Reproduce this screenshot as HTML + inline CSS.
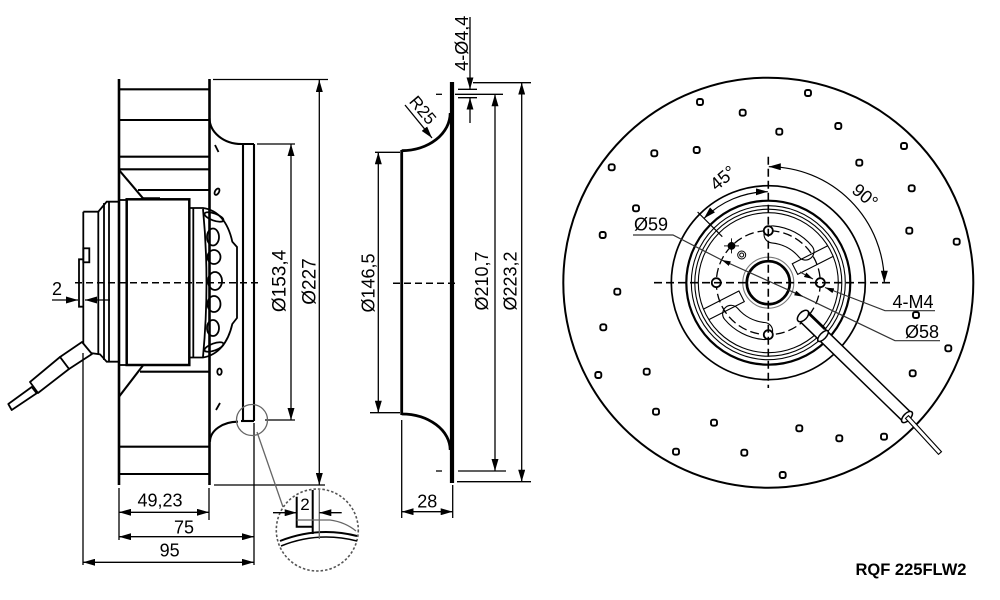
<!DOCTYPE html>
<html><head><meta charset="utf-8"><style>
html,body{margin:0;padding:0;background:#fff}
svg{display:block}
text{font-family:"Liberation Sans",Arial,sans-serif;fill:#000}
</style></head><body>
<svg width="1000" height="600" viewBox="0 0 1000 600" xmlns="http://www.w3.org/2000/svg">
<defs>
<marker id="a" viewBox="0 0 12 7" refX="12" refY="3.5" markerWidth="12" markerHeight="7" markerUnits="userSpaceOnUse" orient="auto-start-reverse"><path d="M0,0L12,3.5L0,7z" fill="#000"/></marker>
<marker id="b" viewBox="0 0 9 5" refX="9" refY="2.5" markerWidth="9" markerHeight="5" markerUnits="userSpaceOnUse" orient="auto-start-reverse"><path d="M0,0L9,2.5L0,5z" fill="#000"/></marker>
</defs>

<!-- ================= LEFT SIDE VIEW ================= -->
<g fill="none" stroke="#000" stroke-width="2.6">
<line x1="119" y1="79" x2="119" y2="485"/>
<line x1="209.5" y1="79" x2="209.5" y2="485"/>
</g>
<g stroke="#000" stroke-width="2.1" fill="none">
<line x1="119" y1="89.3" x2="209" y2="89.3"/>
<line x1="119" y1="120" x2="209" y2="120"/>
<line x1="119" y1="156.7" x2="209" y2="156.7"/>
<line x1="119" y1="169.3" x2="209" y2="169.3"/>
<line x1="138" y1="190" x2="209" y2="190"/>
<line x1="119" y1="170" x2="143" y2="198.3"/>
<line x1="143" y1="198.3" x2="160" y2="198.3"/>
<line x1="140" y1="371.7" x2="209" y2="371.7"/>
<line x1="119" y1="396.7" x2="143.3" y2="365"/>
<line x1="119" y1="446.7" x2="209" y2="446.7"/>
<line x1="119" y1="474" x2="209" y2="474"/>
<!-- shroud -->
<path d="M209.5,118 A32,26 0 0 0 241.5,144 L254,144"/>
<path d="M238,421.7 A28,20 0 0 0 210,441.7"/>
<line x1="243" y1="144" x2="243" y2="421"/>
<line x1="254" y1="144" x2="254" y2="421"/>
<line x1="241" y1="421" x2="254" y2="421"/>
</g>
<!-- small impeller marks -->
<g fill="none" stroke="#000" stroke-width="1.8">
<line x1="215" y1="145" x2="218.5" y2="152"/>
<ellipse cx="217" cy="191.7" rx="2" ry="3.5" transform="rotate(30 217 191.7)"/>
<ellipse cx="219.5" cy="371.7" rx="2.2" ry="3.2"/>
<line x1="216" y1="410" x2="220" y2="403"/>
</g>

<!-- motor -->
<g fill="none" stroke="#000" stroke-width="1.8">
<path d="M83.3,211.7 H98.3 L106.7,201.7 H119"/>
<path d="M83.3,211.7 V352 L100,354.3 L106.7,361.7 H119"/>
<rect x="83.3" y="248.3" width="6" height="14"/>
<path d="M83.3,259.3 H79 V306.7 H83.3"/>
<line x1="98.3" y1="211.7" x2="98.3" y2="354.3"/>
<line x1="104" y1="203" x2="104" y2="360"/>
<line x1="109" y1="201.7" x2="109" y2="361.7"/>
<line x1="119" y1="200" x2="127" y2="200"/>
<line x1="119" y1="365" x2="127" y2="365"/>
</g>
<rect x="126.7" y="199.3" width="62.6" height="165.7" fill="none" stroke="#000" stroke-width="2.5"/>
<!-- rotor -->
<g fill="none" stroke="#000" stroke-width="1.8">
<path d="M189.3,208 H203 C218,210 228,222 232.3,241.7 L237,247 V318 L232.3,324 C228,343 218,355 203,357.5 H189.3"/>
<line x1="193.3" y1="208" x2="193.3" y2="357.5"/>
<path d="M203,209 Q210,282 203,357"/>
<ellipse cx="214" cy="217" rx="10" ry="3.5" transform="rotate(20 214 217)"/>
<ellipse cx="213" cy="237" rx="6" ry="8.5"/>
<ellipse cx="214" cy="257" rx="6.5" ry="7"/>
<ellipse cx="215" cy="281" rx="7" ry="9"/>
<ellipse cx="214" cy="304" rx="6.5" ry="8"/>
<ellipse cx="213" cy="328" rx="6" ry="8"/>
<ellipse cx="214" cy="347" rx="10" ry="3.5" transform="rotate(-20 214 347)"/>
</g>
<!-- cable left -->
<g fill="#fff" stroke="#000" stroke-width="1.8" stroke-linejoin="round">
<polygon points="82,342 92,354 69,369 60,357"/>
<polygon points="60,357 69,369 38,393 30,382"/>
<polygon points="31.7,387 36.7,393.3 11.7,410 8.3,404"/>
</g>
<!-- centre line -->
<line x1="75" y1="282.7" x2="258" y2="282.7" stroke="#000" stroke-width="1.5" stroke-dasharray="7 4"/>

<!-- dimension lines left -->
<g stroke="#000" stroke-width="1.3" fill="none">
<line x1="213" y1="79.5" x2="328" y2="79.5"/>
<line x1="214" y1="485" x2="325" y2="485"/>
<line x1="319.3" y1="80" x2="319.3" y2="485" marker-start="url(#a)" marker-end="url(#a)"/>
<line x1="257" y1="144" x2="295" y2="144"/>
<line x1="265" y1="420" x2="295" y2="420"/>
<line x1="291" y1="144" x2="291" y2="420" marker-start="url(#a)" marker-end="url(#a)"/>
<line x1="52" y1="300" x2="78" y2="300" marker-end="url(#a)"/>
<line x1="110" y1="300" x2="85" y2="300" marker-end="url(#a)"/>
<line x1="119" y1="488" x2="119" y2="540"/>
<line x1="209" y1="488" x2="209" y2="520"/>
<line x1="254" y1="423" x2="254" y2="565"/>
<line x1="83" y1="353" x2="83" y2="565"/>
<line x1="119" y1="512.3" x2="209" y2="512.3" marker-start="url(#a)" marker-end="url(#a)"/>
<line x1="119" y1="536.7" x2="254" y2="536.7" marker-start="url(#a)" marker-end="url(#a)"/>
<line x1="83" y1="562.3" x2="254" y2="562.3" marker-start="url(#a)" marker-end="url(#a)"/>
</g>
<g font-size="19">
<text transform="translate(285.5,281) rotate(-90)" text-anchor="middle">Ø153,4</text>
<text transform="translate(315.5,281.5) rotate(-90)" text-anchor="middle">Ø227</text>
</g>
<g font-size="18" text-anchor="middle">
<text x="57" y="295">2</text>
<text x="160" y="506.7">49,23</text>
<text x="184" y="533.3">75</text>
<text x="169.7" y="556.7">95</text>
</g>

<!-- detail -->
<circle cx="252" cy="420" r="15.5" fill="none" stroke="#666" stroke-width="1.3"/>
<line x1="257" y1="432" x2="283" y2="507" stroke="#666" stroke-width="1.3"/>
<circle cx="317.3" cy="530" r="41" fill="none" stroke="#555" stroke-width="1.6" stroke-dasharray="2.5 2"/>
<g fill="none" stroke="#000" stroke-width="2">
<path d="M296.7,496.7 V526.7 H312"/>
<line x1="312.7" y1="490" x2="312.7" y2="534"/>
<path d="M280,541 Q318,526 357,536"/>
<path d="M281,546 Q318,531 357,541" stroke-width="1.5"/>
</g>
<g fill="none" stroke="#666" stroke-width="1.3">
<line x1="319.3" y1="490" x2="319.3" y2="539"/>
<path d="M296.7,520 H330 Q345,522 356,531"/>
</g>
<g stroke="#000" stroke-width="1.3">
<line x1="273" y1="512.7" x2="296.7" y2="512.7" marker-end="url(#a)"/>
<line x1="341.7" y1="512.7" x2="319.3" y2="512.7" marker-end="url(#a)"/>
</g>
<text x="305" y="510" font-size="17" text-anchor="middle">2</text>

<!-- ================= MIDDLE VIEW ================= -->
<g fill="none" stroke="#000">
<line x1="452" y1="82" x2="452" y2="483" stroke-width="4.2"/>
<line x1="401.7" y1="150" x2="401.7" y2="415" stroke-width="2.8"/>
<path d="M401.7,150.7 A48.5,37.7 0 0 0 450.2,113" stroke-width="2.8"/>
<path d="M401.7,414 A48.5,36 0 0 1 450.2,450" stroke-width="2.8"/>
</g>
<line x1="393" y1="283.3" x2="459" y2="283.3" stroke="#000" stroke-width="1.5" stroke-dasharray="7 4"/>
<g stroke="#000" stroke-width="1.3" fill="none">
<line x1="436" y1="94.3" x2="442" y2="94.3"/>
<line x1="455" y1="94.3" x2="503" y2="94.3"/>
<line x1="436" y1="471" x2="442" y2="471"/>
<line x1="458" y1="471" x2="506" y2="471"/>
<line x1="458" y1="89.3" x2="477" y2="89.3"/>
<line x1="458" y1="97.7" x2="477" y2="97.7"/>
<line x1="473" y1="82.7" x2="531" y2="82.7"/>
<line x1="457" y1="481.7" x2="531" y2="481.7"/>
<line x1="470" y1="17" x2="470" y2="89.3" marker-end="url(#a)"/>
<line x1="470" y1="123" x2="470" y2="97.7" marker-end="url(#a)"/>
<line x1="495" y1="94.3" x2="495" y2="471" marker-start="url(#a)" marker-end="url(#a)"/>
<line x1="521.7" y1="82.7" x2="521.7" y2="481.7" marker-start="url(#a)" marker-end="url(#a)"/>
<line x1="375" y1="152.3" x2="400" y2="152.3"/>
<line x1="370" y1="412.7" x2="400" y2="412.7"/>
<line x1="378.3" y1="152.3" x2="378.3" y2="412.7" marker-start="url(#a)" marker-end="url(#a)"/>
<line x1="405" y1="105" x2="432" y2="138" marker-end="url(#a)"/>
<line x1="401.7" y1="420" x2="401.7" y2="518"/>
<line x1="452.7" y1="485" x2="452.7" y2="518"/>
<line x1="401.7" y1="511.7" x2="452.7" y2="511.7" marker-start="url(#a)" marker-end="url(#a)"/>
</g>
<g font-size="18">
<text transform="translate(374.5,283) rotate(-90)" text-anchor="middle">Ø146,5</text>
<text transform="translate(488,281) rotate(-90)" text-anchor="middle">Ø210,7</text>
<text transform="translate(516.5,281) rotate(-90)" text-anchor="middle">Ø223,2</text>
<text transform="translate(468,43.3) rotate(-90)" text-anchor="middle">4-Ø4,4</text>
<text transform="translate(423,110) rotate(50)" text-anchor="middle" dy="6" font-size="17">R25</text>
<text x="427.3" y="507.3" text-anchor="middle">28</text>
</g>

<!-- ================= FRONT VIEW ================= -->
<g fill="none" stroke="#000">
<circle cx="768.3" cy="282.7" r="205" stroke-width="2"/>
<circle cx="768.3" cy="282.7" r="97" stroke-width="1.7"/>
<circle cx="768.3" cy="282.7" r="82" stroke-width="2.2"/>
<circle cx="768.3" cy="282.7" r="77" stroke-width="1.1"/>
<circle cx="768.3" cy="282.7" r="73.5" stroke-width="1.1"/>
<circle cx="768.3" cy="282.7" r="70" stroke-width="1.1"/>
<circle cx="768.3" cy="282.7" r="25.5" stroke-width="1.1" stroke="#777"/>
<circle cx="768.3" cy="282.7" r="21.5" stroke-width="2.7"/>
<circle cx="768.3" cy="282.7" r="52" stroke-width="1.3" stroke-dasharray="9 4"/>
</g>
<!-- slots -->
<g fill="none" stroke="#000" stroke-width="1.1">
<path d="M773.3,225.9 A57,57 0 0 1 812,246.1 A8.5,8.5 0 0 1 798.9,257 A40,40 0 0 0 771.8,242.9 A8.5,8.5 0 0 1 773.3,225.9Z"/>
<path d="M763.3,339.5 A57,57 0 0 1 724.6,319.3 A8.5,8.5 0 0 1 737.7,308.4 A40,40 0 0 0 764.8,322.5 A8.5,8.5 0 0 1 763.3,339.5Z"/>
<path d="M828,245.6 L792.3,263.8 L797.7,274.4 L833.4,256.2"/>
<path d="M708.6,319.8 L744.3,301.6 L738.9,291 L703.2,309.2"/>
</g>
<!-- bolt holes -->
<g fill="#fff" stroke="#000" stroke-width="1.8">
<circle cx="820.3" cy="282.7" r="4.5"/>
<circle cx="716.3" cy="282.7" r="4.5"/>
<circle cx="768.3" cy="230.7" r="4.5"/>
<circle cx="768.3" cy="334.7" r="4.5"/>
<circle cx="731.5" cy="245.9" r="3" fill="#000"/>
<circle cx="741.7" cy="255" r="4" stroke-width="1"/>
<circle cx="741.7" cy="255" r="2" stroke-width="1"/>
</g>
<g stroke="#000" stroke-width="0.9">
<line x1="724" y1="245.9" x2="739" y2="245.9"/>
<line x1="731.5" y1="238.4" x2="731.5" y2="253.4"/>
</g>
<!-- centre lines -->
<g stroke="#000" stroke-width="1.6" stroke-dasharray="8 4">
<line x1="654" y1="282.7" x2="893" y2="282.7"/>
<line x1="768.3" y1="156.7" x2="768.3" y2="388"/>
</g>
<!-- vent dots -->
<g fill="#fff" stroke="#000" stroke-width="1.9">
<rect x="805" y="90" width="6" height="6" rx="2"/><rect x="697" y="99" width="6" height="6" rx="2"/><rect x="739.7" y="109.7" width="6" height="6" rx="2"/>
<rect x="776.3" y="128.7" width="6" height="6" rx="2"/><rect x="835.3" y="123" width="6" height="6" rx="2"/><rect x="651.3" y="150.3" width="6" height="6" rx="2"/>
<rect x="693.7" y="147" width="6" height="6" rx="2"/><rect x="901" y="143" width="6" height="6" rx="2"/><rect x="608.7" y="164.3" width="6" height="6" rx="2"/>
<rect x="856.3" y="159.7" width="6" height="6" rx="2"/><rect x="908.7" y="185.3" width="6" height="6" rx="2"/><rect x="633" y="205.3" width="6" height="6" rx="2"/>
<rect x="599.7" y="232" width="6" height="6" rx="2"/><rect x="906.3" y="227.7" width="6" height="6" rx="2"/><rect x="953.7" y="238.7" width="6" height="6" rx="2"/>
<rect x="614.3" y="288.7" width="6" height="6" rx="2"/><rect x="913" y="312" width="6" height="6" rx="2"/><rect x="600.3" y="324.3" width="6" height="6" rx="2"/>
<rect x="945.3" y="345.3" width="6" height="6" rx="2"/><rect x="643.7" y="368.7" width="6" height="6" rx="2"/><rect x="595.3" y="372" width="6" height="6" rx="2"/>
<rect x="909.7" y="370.3" width="6" height="6" rx="2"/><rect x="653" y="408.7" width="6" height="6" rx="2"/><rect x="711" y="419.7" width="6" height="6" rx="2"/>
<rect x="796.3" y="425.3" width="6" height="6" rx="2"/><rect x="836.3" y="435.3" width="6" height="6" rx="2"/><rect x="881" y="433.7" width="6" height="6" rx="2"/>
<rect x="673" y="448.7" width="6" height="6" rx="2"/><rect x="741.3" y="449.7" width="6" height="6" rx="2"/><rect x="779.7" y="472" width="6" height="6" rx="2"/>
</g>
<!-- cable -->
<g stroke="#000" stroke-width="1.5">
<polygon points="807.2,311.7 911.2,412.7 902.8,421.3 798.8,320.3" fill="#fff"/>
<line x1="807.2" y1="311.7" x2="825" y2="329" stroke-width="2.8"/>
<ellipse cx="803" cy="316" rx="7" ry="4" transform="rotate(-46 803 316)" fill="#fff"/>
<ellipse cx="823" cy="336" rx="7" ry="3" transform="rotate(-46 823 336)" fill="#fff"/>
<ellipse cx="907" cy="417" rx="7" ry="3.5" transform="rotate(-46 907 417)" fill="#fff"/>
<polygon points="908.5,415.6 941.5,451.7 938.5,454.4 905.5,418.4" fill="#fff" stroke-width="1.1"/>
</g>
<!-- angle dims -->
<g fill="none" stroke="#000" stroke-width="1.2">
<path d="M768.8,166.7 A116,116 0 0 1 884.3,282.7" marker-start="url(#a)" marker-end="url(#a)"/>
<path d="M704,218.4 A91,91 0 0 1 767.8,191.7" marker-start="url(#a)" marker-end="url(#a)"/>
<line x1="722.3" y1="236.7" x2="697.6" y2="212"/>
</g>
<!-- leaders -->
<g fill="none" stroke="#333" stroke-width="1.2">
<path d="M633,235 H673 L721.7,260"/>
<line x1="721.7" y1="260" x2="803.3" y2="296.7" marker-start="url(#b)" marker-end="url(#b)"/>
<path d="M803.3,296.7 L895,340.7 H940"/>
<path d="M935,310.7 H885 L825,287.5" marker-end="url(#b)"/>
<line x1="800" y1="272" x2="813" y2="279" marker-end="url(#b)"/>
</g>
<g font-size="18">
<text x="634" y="230.7">Ø59</text>
<text x="892.5" y="308">4-M4</text>
<text x="905" y="338">Ø58</text>
<text transform="translate(723,178) rotate(-40)" text-anchor="middle" dy="6">45°</text>
<text transform="translate(865,196) rotate(40)" text-anchor="middle" dy="6">90°</text>
</g>

<text x="911" y="575" font-size="16.5" font-weight="bold" text-anchor="middle">RQF 225FLW2</text>
</svg>
</body></html>
